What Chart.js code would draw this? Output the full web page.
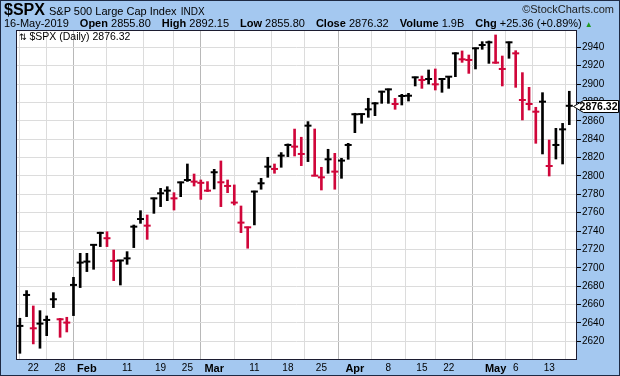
<!DOCTYPE html>
<html>
<head>
<meta charset="utf-8">
<script src="https://cdn.jsdelivr.net/npm/chart.js@4.4.1/dist/chart.umd.min.js"></script>
<style>
html, body { margin: 0; padding: 0; background: #a4c8f0; }
#wrap { position: relative; width: 620px; height: 376px; overflow: hidden; font-family: "Liberation Sans", Arial, sans-serif; color: #000; }
#wrap canvas { position: absolute; left: 0; top: 0; }
.t { position: absolute; white-space: nowrap; }
.g { margin-left: 11px; }
</style>
</head>
<body>
<div id="wrap">
  <canvas id="spxChart" width="620" height="376"></canvas>
  <div class="t" style="left:4px;top:1px;font-size:11px;line-height:18px"><b style="font-size:16px">$SPX</b> <span style="margin-left:1px">S&amp;P 500 Large Cap Index</span> <span style="font-size:10px;margin-left:1px">INDX</span></div>
  <div class="t" style="right:6px;top:3px;font-size:11px;line-height:13px;color:#222">&copy;StockCharts.com</div>
  <div class="t" style="left:4px;top:17px;font-size:11px;line-height:13px">16-May-2019<span class="g"><b>Open</b> 2855.80</span><span class="g"><b>High</b> 2892.15</span><span class="g"><b>Low</b> 2855.80</span><span class="g"><b>Close</b> 2876.32</span><span class="g"><b>Volume</b> 1.9B</span><span class="g"><b>Chg</b> +25.36 (+0.89%)</span> <span style="color:#1f9a1f;font-size:8px">&#9650;</span></div>
  <div class="t" style="left:19px;top:30px;font-size:10.5px;line-height:12px"><span style="font-family:'DejaVu Sans';font-size:9px">&#8645;</span> $SPX (Daily) 2876.32</div>
</div>
<script>
'use strict';

// trading days shown on the chart
var dates = [
  'Jan 17','Jan 18','Jan 22','Jan 23','Jan 24','Jan 25','Jan 28','Jan 29','Jan 30','Jan 31',
  'Feb 1','Feb 4','Feb 5','Feb 6','Feb 7','Feb 8','Feb 11','Feb 12','Feb 13','Feb 14','Feb 15',
  'Feb 19','Feb 20','Feb 21','Feb 22','Feb 25','Feb 26','Feb 27','Feb 28',
  'Mar 1','Mar 4','Mar 5','Mar 6','Mar 7','Mar 8','Mar 11','Mar 12','Mar 13','Mar 14','Mar 15',
  'Mar 18','Mar 19','Mar 20','Mar 21','Mar 22','Mar 25','Mar 26','Mar 27','Mar 28','Mar 29',
  'Apr 1','Apr 2','Apr 3','Apr 4','Apr 5','Apr 8','Apr 9','Apr 10','Apr 11','Apr 12',
  'Apr 15','Apr 16','Apr 17','Apr 18','Apr 22','Apr 23','Apr 24','Apr 25','Apr 26','Apr 29','Apr 30',
  'May 1','May 2','May 3','May 6','May 7','May 8','May 9','May 10','May 13','May 14','May 15','May 16'
];

var highs = [
  2645.1, 2675.2, 2658.5, 2653.4, 2647.6, 2673.0, 2645.0, 2646.2, 2689.7, 2715.8,
  2715.8, 2725.6, 2738.8, 2739.3, 2719.4, 2708.3, 2717.6, 2746.6, 2762.2, 2757.5, 2776.0,
  2786.5, 2788.3, 2781.8, 2793.4, 2813.0, 2802.1, 2795.6, 2793.8,
  2807.2, 2816.3, 2795.6, 2790.2, 2767.3, 2744.5, 2783.5, 2797.4, 2820.3, 2813.0, 2825.4,
  2834.8, 2851.0, 2842.1, 2859.1, 2851.1, 2809.4, 2829.0, 2824.6, 2819.2, 2835.5,
  2868.2, 2867.6, 2884.5, 2879.8, 2892.2, 2894.6, 2884.4, 2888.8, 2889.9, 2907.7,
  2908.7, 2915.3, 2916.4, 2906.2, 2908.4, 2934.1, 2936.0, 2931.6, 2939.3, 2946.1, 2946.8,
  2953.4, 2930.5, 2945.8, 2936.3, 2912.4, 2896.4, 2874.7, 2890.6, 2839.1, 2851.8, 2857.2, 2892.15
];

var lows = [
  2607.0, 2646.9, 2617.2, 2612.5, 2626.2, 2656.7, 2624.4, 2630.2, 2648.0, 2678.5,
  2695.9, 2698.4, 2723.1, 2723.1, 2686.1, 2681.3, 2703.8, 2722.0, 2748.4, 2731.0, 2759.3,
  2766.6, 2773.1, 2762.9, 2777.4, 2794.0, 2789.0, 2774.5, 2783.0,
  2785.8, 2766.6, 2781.8, 2768.4, 2738.3, 2721.3, 2746.7, 2785.5, 2798.5, 2802.9, 2809.4,
  2821.0, 2821.7, 2811.2, 2815.6, 2800.0, 2784.7, 2802.9, 2785.5, 2797.4, 2818.1,
  2847.1, 2857.3, 2863.8, 2865.6, 2879.0, 2879.0, 2872.5, 2877.2, 2881.5, 2897.9,
  2895.3, 2900.0, 2893.5, 2891.0, 2895.3, 2908.0, 2923.6, 2911.6, 2916.4, 2937.8, 2922.5,
  2922.5, 2897.9, 2928.0, 2896.4, 2860.9, 2871.7, 2835.5, 2823.9, 2799.9, 2818.4, 2813.0, 2855.80
];

var closes = [
  2636.8, 2670.5, 2634.2, 2639.3, 2643.3, 2665.8, 2644.0, 2640.4, 2681.4, 2705.7,
  2706.8, 2725.0, 2738.0, 2732.2, 2707.5, 2708.0, 2710.3, 2744.8, 2753.1, 2745.9, 2775.6,
  2781.1, 2784.0, 2775.6, 2793.0, 2795.6, 2793.8, 2792.5, 2784.0,
  2804.0, 2793.1, 2789.1, 2771.0, 2749.2, 2744.1, 2783.0, 2792.0, 2810.1, 2807.6, 2822.1,
  2833.7, 2831.9, 2823.9, 2854.7, 2800.3, 2798.5, 2818.1, 2804.7, 2816.7, 2833.7,
  2867.1, 2867.3, 2872.5, 2879.0, 2891.7, 2894.2, 2878.3, 2887.0, 2887.3, 2907.3,
  2904.4, 2905.5, 2899.7, 2905.5, 2908.0, 2933.4, 2926.9, 2926.2, 2938.9, 2942.5, 2945.4,
  2923.3, 2916.4, 2945.4, 2933.4, 2882.6, 2878.3, 2869.9, 2880.8, 2810.8, 2833.7, 2850.7, 2876.32
];

// x tick labels sit on these trading-day indexes
var xTickIdx  = [2, 6, 10, 16, 21, 25, 29, 35, 40, 45, 50, 55, 60, 64, 71, 74, 79];
var xTickText = ['22', '28', 'Feb', '11', '19', '25', 'Mar', '11', '18', '25', 'Apr', '8', '15', '22', 'May', '6', '13'];
var monthIdx  = [10, 29, 50, 71];
var yTicks = [2620, 2640, 2660, 2680, 2700, 2720, 2740, 2760, 2780, 2800, 2820, 2840, 2860, 2880, 2900, 2920, 2940];

var RED = '#d0063a';
var FONT = "'Liberation Sans', Arial, sans-serif";
Chart.defaults.font.family = FONT;

// red when the close is below the prior close
var barColors = closes.map(function(c, i) {
  return (i > 0 && c < closes[i - 1]) ? RED : '#000';
});

var framePlugin = {
  id: 'frame',
  beforeDraw: function(chart) {
    var ctx = chart.ctx, a = chart.chartArea;
    ctx.save();
    ctx.fillStyle = '#a4c8f0';
    ctx.fillRect(0, 0, chart.width, chart.height);
    ctx.fillStyle = '#fff';
    ctx.fillRect(a.left, a.top, a.right - a.left, a.bottom - a.top);
    ctx.restore();
  },
  afterDraw: function(chart) {
    var ctx = chart.ctx, a = chart.chartArea;
    ctx.save();
    ctx.strokeStyle = '#1c1c30';
    ctx.lineWidth = 1;
    ctx.strokeRect(a.left + 0.5, a.top + 0.5, a.right - a.left - 1, a.bottom - a.top - 1);
    ctx.strokeStyle = '#1e2a44';
    ctx.strokeRect(0.5, 0.5, chart.width - 1, chart.height - 1);

    // last price tag on the right axis
    var last = closes[closes.length - 1];
    var py = Math.round(chart.scales.y.getPixelForValue(last)) + 0.5;
    var bx = a.right + 1.5, tip = a.right - 3.5, bw = 40, bh = 12;
    ctx.beginPath();
    ctx.moveTo(tip, py);
    ctx.lineTo(bx + 5, py - bh / 2);
    ctx.lineTo(bx + bw, py - bh / 2);
    ctx.lineTo(bx + bw, py + bh / 2);
    ctx.lineTo(bx + 5, py + bh / 2);
    ctx.closePath();
    ctx.fillStyle = '#fff';
    ctx.fill();
    ctx.strokeStyle = '#000';
    ctx.stroke();
    ctx.fillStyle = '#000';
    ctx.font = 'bold 10.5px ' + FONT;
    ctx.textBaseline = 'middle';
    ctx.textAlign = 'right';
    ctx.fillText(last.toFixed(2), bx + bw - 1, py + 0.5);
    ctx.restore();
  }
};

new Chart(document.getElementById('spxChart'), {
  type: 'bar',
  data: {
    datasets: [{
      type: 'bar',
      label: 'High-Low',
      data: highs.map(function(h, i) { return { x: i, y: [lows[i], h] }; }),
      backgroundColor: barColors,
      borderWidth: 0,
      barThickness: 2,
      grouped: false
    }, {
      type: 'scatter',
      label: 'Close',
      data: closes.map(function(c, i) { return { x: i, y: c }; }),
      pointStyle: 'line',
      pointRadius: 3.5,
      pointHoverRadius: 3.5,
      pointBorderWidth: 2,
      pointBorderColor: barColors,
      pointBackgroundColor: barColors
    }]
  },
  options: {
    responsive: false,
    devicePixelRatio: 1,
    animation: false,
    events: [],
    layout: { padding: { left: 16, top: 30, right: 0, bottom: 0 } },
    plugins: { legend: { display: false }, tooltip: { enabled: false } },
    scales: {
      x: {
        type: 'linear', min: -0.58, max: 83.15, offset: false,
        afterBuildTicks: function(s) { s.ticks = xTickIdx.map(function(v) { return { value: v }; }); },
        afterFit: function(s) { s.height = 16; },
        border: { display: false },
        grid: {
          drawTicks: false,
          color: function(ctx) { return (ctx.tick && monthIdx.indexOf(ctx.tick.value) >= 0) ? '#b8b8b8' : '#dcdcdc'; }
        },
        ticks: {
          autoSkip: false, maxRotation: 0, padding: 2, color: '#000',
          font: function(ctx) {
            var m = ctx.tick && monthIdx.indexOf(ctx.tick.value) >= 0;
            return m ? { size: 11, weight: 'bold' } : { size: 10 };
          },
          callback: function(v, i) { return xTickText[i]; }
        }
      },
      y: {
        position: 'right', min: 2599.7, max: 2958.8,
        afterBuildTicks: function(s) { s.ticks = yTicks.map(function(v) { return { value: v }; }); },
        afterFit: function(s) { s.width = 43; },
        border: { display: false },
        grid: { color: '#dcdcdc', tickColor: '#000', tickLength: 4 },
        ticks: { padding: 1, color: '#000', font: { size: 10 }, callback: function(v) { return v; } }
      }
    }
  },
  plugins: [framePlugin]
});
</script>
</body>
</html>
